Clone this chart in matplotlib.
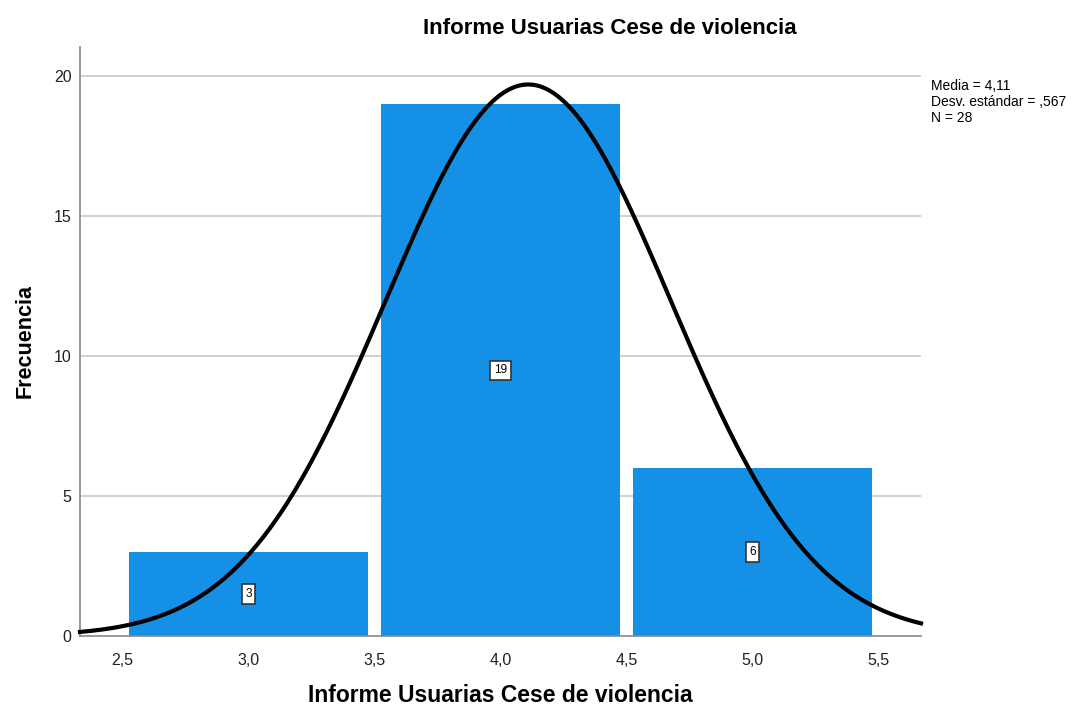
import numpy as np
import matplotlib
matplotlib.use("Agg")
import matplotlib.pyplot as plt

plt.rcParams['font.family'] = ['Liberation Sans', 'DejaVu Sans']

# data
categories = [3.0, 4.0, 5.0]
counts = [3, 19, 6]
media = 4.11
desv = 0.567
n = 28
xticks = [2.5, 3.0, 3.5, 4.0, 4.5, 5.0, 5.5]
xtick_labels = ['2,5', '3,0', '3,5', '4,0', '4,5', '5,0', '5,5']
yticks = [0, 5, 10, 15, 20]

fig = plt.figure(figsize=(10.89, 7.07), dpi=100)
ax = fig.add_axes([80/1089, 1-636/707, (921-80)/1089, (636-47)/707])

ax.set_xlim(2.332, 5.668)
ax.set_ylim(0, 21.04)

for y in yticks[1:]:
    ax.axhline(y, color='#c8c8c8', linewidth=1.2, zorder=0)

ax.bar(categories, counts, width=0.95, color='#1490e6', edgecolor='none', zorder=2)

for c, v in zip(categories, counts):
    ax.text(c, v/2, str(v), ha='center', va='center', fontsize=8.5, zorder=4,
            bbox=dict(boxstyle='square,pad=0.3', fc='white', ec='#333333', lw=1.2))

# normal curve scaled to counts (bin width 1)
x = np.linspace(2.332, 5.668, 400)
y = n * 1.0 / (desv*np.sqrt(2*np.pi)) * np.exp(-0.5*((x-media)/desv)**2)
ax.plot(x, y, color='black', linewidth=3.0, zorder=3, clip_on=False)

ax.set_xticks(xticks)
ax.set_xticklabels(xtick_labels)
ax.set_yticks(yticks)
ax.tick_params(length=0, labelsize=11.5, colors='#222222', pad=12)
ax.tick_params(axis='y', pad=6)

for s in ['top', 'right']:
    ax.spines[s].set_visible(False)
for s in ['left', 'bottom']:
    ax.spines[s].set_color('#888888')
    ax.spines[s].set_linewidth(1.2)

ax.set_xlabel('Informe Usuarias Cese de violencia', fontsize=16.5, fontweight='bold', labelpad=12)
ax.set_ylabel('Frecuencia', fontsize=15.5, fontweight='bold', labelpad=13)
fig.text(610/1089, 1-29/707, 'Informe Usuarias Cese de violencia', ha='center', va='center',
         fontsize=16, fontweight='bold')

fig.text(931/1089, 1-79/707, 'Media = 4,11\nDesv. estándar = ,567\nN = 28', ha='left', va='top',
         fontsize=10, linespacing=1.2)

fig.savefig('out.png', dpi=100)
